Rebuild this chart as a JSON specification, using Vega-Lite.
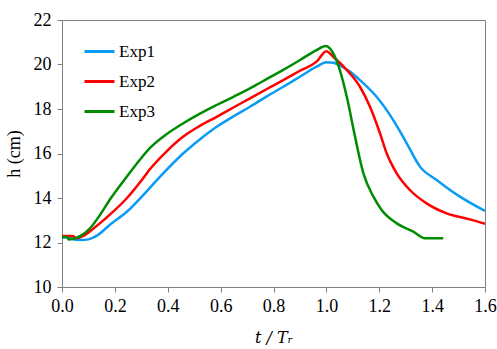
{
  "$schema": "https://vega.github.io/schema/vega-lite/v6.json",
  "width": 423,
  "height": 267,
  "autosize": "none",
  "padding": {"left": 62, "top": 20, "right": 12, "bottom": 62},
  "background": "white",
  "config": {
    "view": {"stroke": "#808080", "strokeWidth": 1},
    "font": "'Times New Roman', 'Liberation Serif', serif"
  },
  "data": {
    "values": [
      {"series": "Exp1", "t": 0.0, "h": 12.22},
      {"series": "Exp1", "t": 0.03, "h": 12.22},
      {"series": "Exp1", "t": 0.045, "h": 12.13},
      {"series": "Exp1", "t": 0.07, "h": 12.11},
      {"series": "Exp1", "t": 0.1, "h": 12.14},
      {"series": "Exp1", "t": 0.125, "h": 12.26},
      {"series": "Exp1", "t": 0.144, "h": 12.41},
      {"series": "Exp1", "t": 0.18, "h": 12.79},
      {"series": "Exp1", "t": 0.245, "h": 13.38},
      {"series": "Exp1", "t": 0.307, "h": 14.13},
      {"series": "Exp1", "t": 0.371, "h": 14.96},
      {"series": "Exp1", "t": 0.459, "h": 16.01},
      {"series": "Exp1", "t": 0.52, "h": 16.62},
      {"series": "Exp1", "t": 0.585, "h": 17.2},
      {"series": "Exp1", "t": 0.65, "h": 17.68},
      {"series": "Exp1", "t": 0.711, "h": 18.1},
      {"series": "Exp1", "t": 0.775, "h": 18.57},
      {"series": "Exp1", "t": 0.837, "h": 19.0},
      {"series": "Exp1", "t": 0.9, "h": 19.45},
      {"series": "Exp1", "t": 0.963, "h": 19.9},
      {"series": "Exp1", "t": 1.0, "h": 20.1},
      {"series": "Exp1", "t": 1.026, "h": 20.08},
      {"series": "Exp1", "t": 1.06, "h": 19.9},
      {"series": "Exp1", "t": 1.089, "h": 19.68},
      {"series": "Exp1", "t": 1.127, "h": 19.3},
      {"series": "Exp1", "t": 1.19, "h": 18.55},
      {"series": "Exp1", "t": 1.253, "h": 17.5},
      {"series": "Exp1", "t": 1.304, "h": 16.46},
      {"series": "Exp1", "t": 1.354, "h": 15.41},
      {"series": "Exp1", "t": 1.417, "h": 14.81},
      {"series": "Exp1", "t": 1.505, "h": 14.06},
      {"series": "Exp1", "t": 1.6, "h": 13.42},

      {"series": "Exp2", "t": 0.0, "h": 12.29},
      {"series": "Exp2", "t": 0.04, "h": 12.29},
      {"series": "Exp2", "t": 0.056, "h": 12.19},
      {"series": "Exp2", "t": 0.08, "h": 12.3},
      {"series": "Exp2", "t": 0.118, "h": 12.62},
      {"series": "Exp2", "t": 0.18, "h": 13.24},
      {"series": "Exp2", "t": 0.245, "h": 13.99},
      {"series": "Exp2", "t": 0.307, "h": 14.89},
      {"series": "Exp2", "t": 0.333, "h": 15.3},
      {"series": "Exp2", "t": 0.396, "h": 16.1},
      {"series": "Exp2", "t": 0.459, "h": 16.76},
      {"series": "Exp2", "t": 0.52, "h": 17.23},
      {"series": "Exp2", "t": 0.585, "h": 17.65},
      {"series": "Exp2", "t": 0.65, "h": 18.08},
      {"series": "Exp2", "t": 0.711, "h": 18.48},
      {"series": "Exp2", "t": 0.775, "h": 18.9},
      {"series": "Exp2", "t": 0.837, "h": 19.3},
      {"series": "Exp2", "t": 0.9, "h": 19.72},
      {"series": "Exp2", "t": 0.963, "h": 20.13},
      {"series": "Exp2", "t": 1.0, "h": 20.6},
      {"series": "Exp2", "t": 1.026, "h": 20.35},
      {"series": "Exp2", "t": 1.089, "h": 19.6},
      {"series": "Exp2", "t": 1.127, "h": 19.0},
      {"series": "Exp2", "t": 1.165, "h": 18.1},
      {"series": "Exp2", "t": 1.203, "h": 16.9},
      {"series": "Exp2", "t": 1.228, "h": 16.01},
      {"series": "Exp2", "t": 1.266, "h": 15.11},
      {"series": "Exp2", "t": 1.316, "h": 14.36},
      {"series": "Exp2", "t": 1.379, "h": 13.76},
      {"series": "Exp2", "t": 1.455, "h": 13.31},
      {"series": "Exp2", "t": 1.543, "h": 13.04},
      {"series": "Exp2", "t": 1.6, "h": 12.84},

      {"series": "Exp3", "t": 0.0, "h": 12.25},
      {"series": "Exp3", "t": 0.02, "h": 12.25},
      {"series": "Exp3", "t": 0.024, "h": 12.14},
      {"series": "Exp3", "t": 0.04, "h": 12.16},
      {"series": "Exp3", "t": 0.07, "h": 12.3},
      {"series": "Exp3", "t": 0.106, "h": 12.64},
      {"series": "Exp3", "t": 0.144, "h": 13.24},
      {"series": "Exp3", "t": 0.18, "h": 13.91},
      {"series": "Exp3", "t": 0.245, "h": 14.96},
      {"series": "Exp3", "t": 0.3, "h": 15.8},
      {"series": "Exp3", "t": 0.333, "h": 16.25},
      {"series": "Exp3", "t": 0.39, "h": 16.82},
      {"series": "Exp3", "t": 0.459, "h": 17.36},
      {"series": "Exp3", "t": 0.52, "h": 17.78},
      {"series": "Exp3", "t": 0.585, "h": 18.18},
      {"series": "Exp3", "t": 0.65, "h": 18.56},
      {"series": "Exp3", "t": 0.711, "h": 18.93},
      {"series": "Exp3", "t": 0.775, "h": 19.35},
      {"series": "Exp3", "t": 0.837, "h": 19.76},
      {"series": "Exp3", "t": 0.9, "h": 20.2},
      {"series": "Exp3", "t": 0.963, "h": 20.65},
      {"series": "Exp3", "t": 0.998, "h": 20.83},
      {"series": "Exp3", "t": 1.026, "h": 20.5},
      {"series": "Exp3", "t": 1.051, "h": 19.75},
      {"series": "Exp3", "t": 1.08, "h": 18.4},
      {"series": "Exp3", "t": 1.105, "h": 16.95},
      {"series": "Exp3", "t": 1.14, "h": 15.11},
      {"series": "Exp3", "t": 1.178, "h": 14.06},
      {"series": "Exp3", "t": 1.209, "h": 13.46},
      {"series": "Exp3", "t": 1.266, "h": 12.86},
      {"series": "Exp3", "t": 1.329, "h": 12.49},
      {"series": "Exp3", "t": 1.373, "h": 12.19},
      {"series": "Exp3", "t": 1.442, "h": 12.19}
    ]
  },
  "mark": {"type": "line", "strokeWidth": 2.5, "clip": true, "interpolate": "monotone"},
  "encoding": {
    "x": {
      "field": "t",
      "type": "quantitative",
      "scale": {"domain": [0, 1.6], "nice": false, "zero": false},
      "axis": {
        "values": [0, 0.2, 0.4, 0.6, 0.8, 1.0, 1.2, 1.4, 1.6],
        "format": ".1f",
        "grid": false,
        "domainColor": "#808080",
        "tickColor": "#808080",
        "tickSize": 5,
        "labelFont": "'Times New Roman', 'Liberation Serif', serif",
        "labelFontSize": 18,
        "labelColor": "black",
        "labelPadding": 5,
        "labelFlush": false,
        "title": "t / Tᵣ",
        "titleFont": "'DejaVu Serif', serif",
        "titleFontStyle": "italic",
        "titleFontWeight": "normal",
        "titleFontSize": 16,
        "titleColor": "black",
        "titlePadding": 14
      }
    },
    "y": {
      "field": "h",
      "type": "quantitative",
      "scale": {"domain": [10, 22], "nice": false, "zero": false},
      "axis": {
        "values": [10, 12, 14, 16, 18, 20, 22],
        "format": "d",
        "grid": false,
        "domainColor": "#808080",
        "tickColor": "#808080",
        "tickSize": 5,
        "labelFont": "'Times New Roman', 'Liberation Serif', serif",
        "labelFontSize": 18,
        "labelColor": "black",
        "labelPadding": 6,
        "labelFlush": false,
        "title": "h (cm)",
        "titleFont": "'Times New Roman', 'Liberation Serif', serif",
        "titleFontStyle": "normal",
        "titleFontWeight": "normal",
        "titleFontSize": 18,
        "titleColor": "black",
        "titlePadding": 10
      }
    },
    "color": {
      "field": "series",
      "type": "nominal",
      "scale": {"domain": ["Exp1", "Exp2", "Exp3"], "range": ["#0A9BF5", "#FF0000", "#008C00"]},
      "legend": {
        "title": null,
        "orient": "none",
        "legendX": 21,
        "legendY": 15,
        "symbolType": "stroke",
        "symbolSize": 900,
        "symbolStrokeWidth": 3,
        "labelFont": "'Times New Roman', 'Liberation Serif', serif",
        "labelFontSize": 17,
        "labelColor": "black",
        "labelOffset": 3,
        "rowPadding": 5
      }
    }
  }
}
